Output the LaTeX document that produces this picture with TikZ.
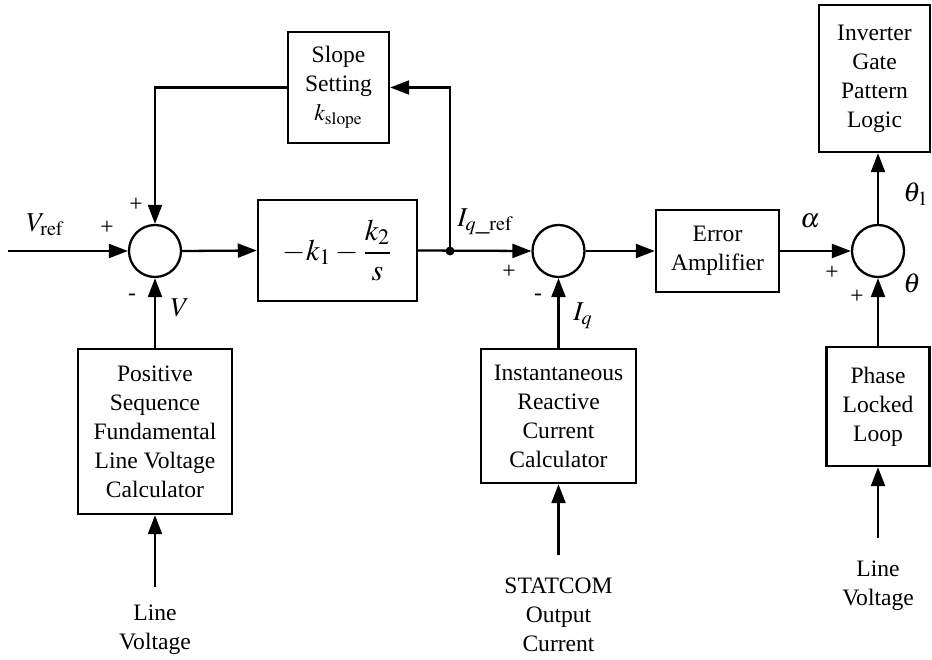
\documentclass[tikz,border=0pt]{standalone}
\usepackage{mathptmx}
\usepackage{fontspec}
\setmainfont{Liberation Serif}
\usetikzlibrary{positioning,calc,arrows.meta}

\begin{document}
\begin{tikzpicture}[
  font=\fontsize{13.4}{16.5}\selectfont,
  block/.style={draw, line width=1.4pt, align=center, inner sep=0pt},
  sumnode/.style={draw, circle, line width=1.3pt, minimum size=1.04cm, inner sep=0pt},
  sig/.style={line width=1.3pt, -{Triangle[length=3.8mm,width=2.8mm]}},
  sign/.style={inner sep=0pt},
  mlabel/.style={font=\fontsize{15.5}{18}\selectfont, inner sep=1pt}
]
  \useasboundingbox (0,0) rectangle (18.64,13.18);

  % Summing junctions
  \node[sumnode] (sumV) at (3.10, 8.16) {};
  \node[sumnode] (sumI) at (11.17, 8.16) {};
  \node[sumnode] (sumA) at (17.56, 8.16) {};

  % Blocks
  \node[block, minimum width=2.02cm, minimum height=2.22cm] (slope) at (6.77, 11.43) {Slope\\Setting\\$k_{\mathrm{slope}}$};
  \node[block, minimum width=3.18cm, minimum height=2.02cm, font=\fontsize{17}{20}\selectfont] (gain) at (6.75, 8.17) {$\displaystyle -k_1-\frac{k_2}{s}$};
  \node[block, minimum width=2.46cm, minimum height=1.64cm] (erramp) at (14.35, 8.16) {Error\\Amplifier};
  \node[block, minimum width=2.22cm, minimum height=2.94cm] (gate) at (17.49, 11.61) {Inverter\\Gate\\Pattern\\Logic};
  \node[block, minimum width=3.08cm, minimum height=3.3cm] (pseq) at (3.10, 4.55) {Positive\\Sequence\\Fundamental\\Line Voltage\\Calculator};
  \node[block, minimum width=3.10cm, minimum height=2.68cm] (iqcalc) at (11.17, 4.86) {Instantaneous\\Reactive\\Current\\Calculator};
  \node[block, minimum width=2.06cm, minimum height=2.38cm] (pll) at (17.56, 5.05) {Phase\\Locked\\Loop};

  % Inputs
  \coordinate (vin) at (0.16, 8.16);
  \coordinate (lvA) at (3.10, 1.44);
  \coordinate (icA) at (11.17, 2.08);
  \coordinate (lvB) at (17.56, 2.42);
  \node[align=center] (lvtxtA) at (3.10, 0.59) {Line\\Voltage};
  \node[align=center] (ictxt) at (11.17, 0.89) {STATCOM\\Output\\Current};
  \node[align=center] (lvtxtB) at (17.56, 1.47) {Line\\Voltage};

  % Connections
  \node[circle, fill, inner sep=1.8pt] (tap) at (9.0, 8.16) {};
  \draw[sig] (vin) -- (sumV.west);
  \draw[sig] (sumV.east) -- (gain.west);
  \draw[sig] (gain.east) -- (sumI.west);
  \draw[sig] (tap.center) |- (slope.east);
  \draw[sig] (slope.west) -| (sumV.north);
  \draw[sig] (sumI.east) -- (erramp.west);
  \draw[sig] (erramp.east) -- (sumA.west);
  \draw[sig] (sumA.north) -- (sumA.north |- gate.south);
  \draw[sig] (pseq.north) -- (sumV.south);
  \draw[sig] (iqcalc.north) -- (sumI.south);
  \draw[sig] (pll.north) -- (sumA.south);
  \draw[sig] (lvA) -- (pseq.south);
  \draw[sig] (icA) -- (iqcalc.south);
  \draw[sig] (lvB) -- (pll.south);

  % Signal labels and signs
  \node[mlabel] (vref) at (0.9, 8.68) {$V_{\mathrm{ref}}$};
  \node[sign] (pV1) at (2.14, 8.62) {+};
  \node[sign] (pV2) at (2.72, 9.08) {+};
  \node[sign] (mV) at (2.64, 7.24) {-};
  \node[mlabel] (vlab) at (3.6, 7.02) {$V$};
  \node[mlabel] (iqref) at (9.7, 8.74) {$I_{q\_\mathrm{ref}}$};
  \node[sign] (pI) at (10.18, 7.74) {+};
  \node[sign] (mI) at (10.76, 7.24) {-};
  \node[mlabel] (iqlab) at (11.66, 6.86) {$I_q$};
  \node[mlabel] (alab) at (16.2, 8.76) {$\alpha$};
  \node[sign] (pA1) at (16.64, 7.72) {+};
  \node[sign] (pA2) at (17.14, 7.24) {+};
  \node[mlabel] (thlab) at (18.24, 7.52) {$\theta$};
  \node[mlabel] (th1lab) at (18.32, 9.3) {$\theta_1$};
\end{tikzpicture}
\end{document}
